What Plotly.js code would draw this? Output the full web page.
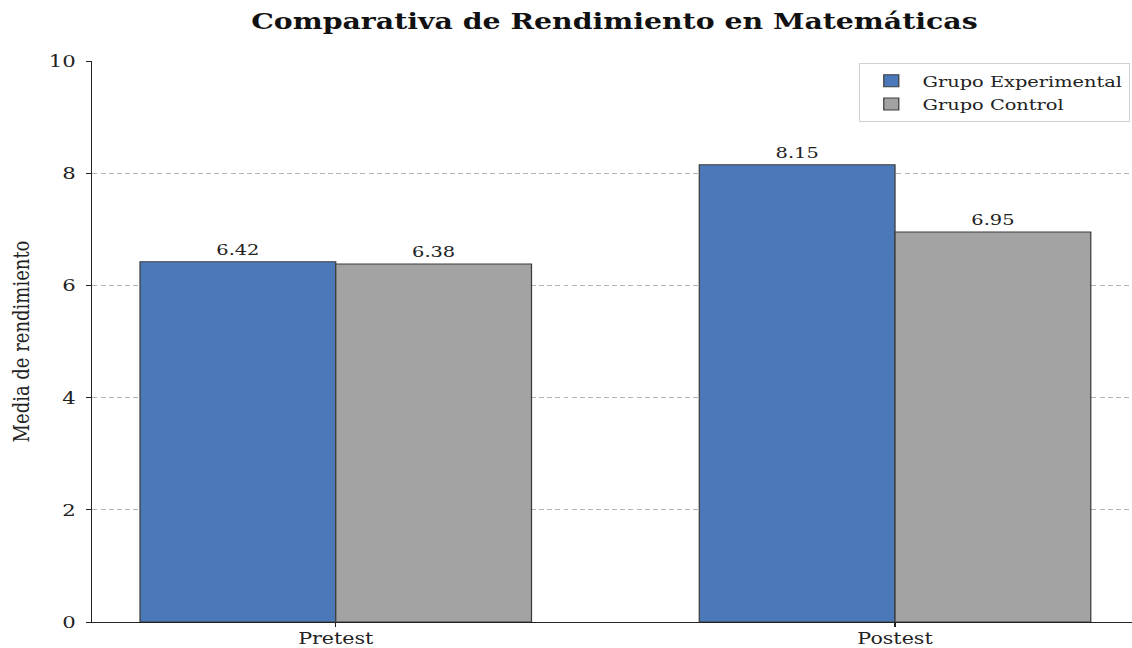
<!DOCTYPE html>
<html>
<head>
<meta charset="utf-8">
<script src="https://cdn.plot.ly/plotly-3.0.1.min.js"></script>
<style>
html,body{margin:0;padding:0;background:#fff;overflow:hidden;}
#wrap{width:1132px;height:648px;overflow:hidden;}
#chart{width:906px;height:648px;transform:scaleX(1.24945);transform-origin:0 0;}
</style>
</head>
<body>
<div id="wrap"><div id="chart"></div></div>
<script>
const categories = ["Pretest", "Postest"];
const experimental = [6.42, 8.15];
const control = [6.38, 6.95];
const seriesNames = ["Grupo Experimental", "Grupo Control"];
const yTicks = [0, 2, 4, 6, 8, 10];

const serif = "DejaVu Serif, serif";
const fmt = v => v.toFixed(2);

const traces = [
  {
    type: "bar", name: seriesNames[0], x: categories, y: experimental,
    marker: {color: "#4a78b8", line: {color: "#3c3c3c", width: 1}},
    text: experimental.map(fmt), textposition: "outside", cliponaxis: false,
    textfont: {family: serif, size: 15.5, color: "#222"}
  },
  {
    type: "bar", name: seriesNames[1], x: categories, y: control,
    marker: {color: "#a3a3a3", line: {color: "#3c3c3c", width: 1}},
    text: control.map(fmt), textposition: "outside", cliponaxis: false,
    textfont: {family: serif, size: 15.5, color: "#222"}
  }
];

const layout = {
  width: 906, height: 648,
  margin: {l: 74, r: 0, t: 61, b: 26},
  paper_bgcolor: "#fff", plot_bgcolor: "#fff",
  barmode: "group", bargap: 0.3, bargroupgap: 0,
  title: {text: "<b>Comparativa de Rendimiento en Matemáticas</b>", font: {family: serif, size: 22.7, color: "#111"}, x: 0.5428, xanchor: "center", xref: "container", y: 0.967, yanchor: "middle"},
  xaxis: {
    range: [-0.435, 1.4237], showgrid: false, zeroline: false,
    showline: true, linecolor: "#222", linewidth: 1,
    ticks: "outside", ticklen: 4, tickcolor: "#222", ticklabelstandoff: -3,
    tickfont: {family: serif, size: 16.5, color: "#222"}
  },
  yaxis: {
    range: [0, 10], tickvals: yTicks, ticktext: yTicks.map(String),
    showgrid: true, gridcolor: "#b4b4b4", griddash: "4px,2.5px", gridwidth: 1,
    zeroline: false, showline: true, linecolor: "#222", linewidth: 1,
    ticks: "outside", ticklen: 4, tickcolor: "#222", ticklabelstandoff: 5,
    tickfont: {family: serif, size: 17, color: "#222"},
    title: {text: "Media de rendimiento", font: {family: serif, size: 18, color: "#222"}, standoff: 10}
  },
  legend: {
    x: 0.998, y: 0.996, xanchor: "right", yanchor: "top",
    bgcolor: "rgba(255,255,255,0.9)", bordercolor: "#d0d0d0", borderwidth: 1,
    font: {family: serif, size: 15.5, color: "#222"}, tracegroupgap: 0,
    itemwidth: 40
  },
  showlegend: true
};

Plotly.newPlot("chart", traces, layout, {displayModeBar: false, staticPlot: true});
</script>
</body>
</html>
